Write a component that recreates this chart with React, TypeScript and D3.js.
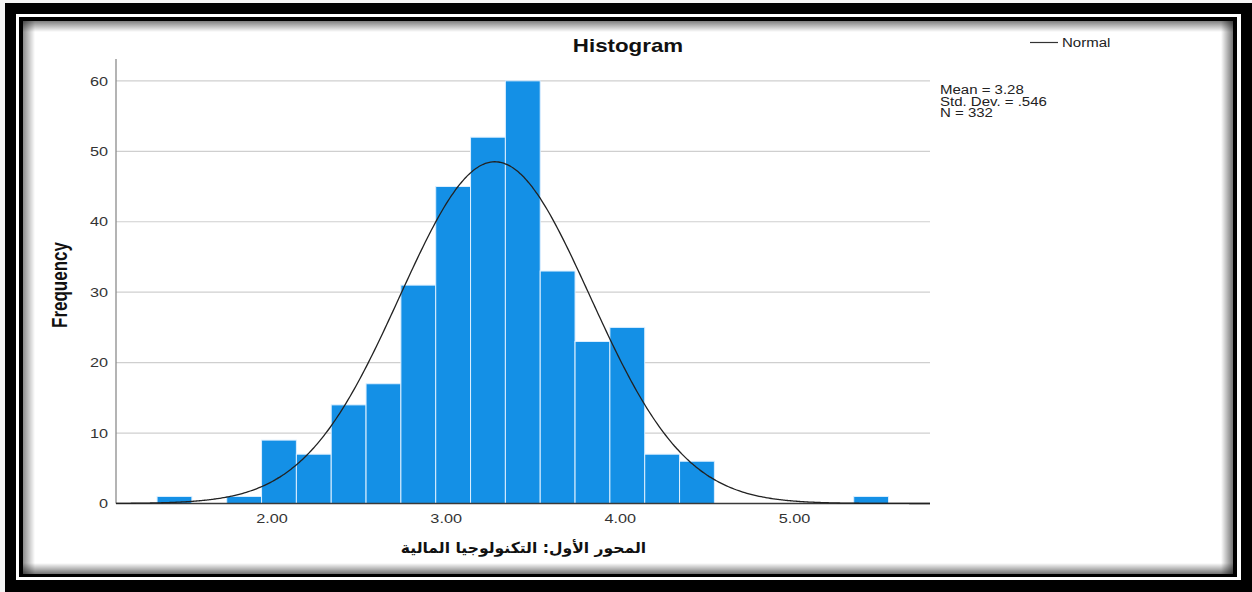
import React from "react";
import * as d3 from "d3";

const binStarts = [1.34, 1.54, 1.74, 1.94, 2.14, 2.34, 2.54, 2.74, 2.94, 3.14, 3.34, 3.54, 3.74, 3.94, 4.14, 4.34, 4.54, 4.74, 4.94, 5.14, 5.34];
const frequencies = [1, 0, 1, 9, 7, 14, 17, 31, 45, 52, 60, 33, 23, 25, 7, 6, 0, 0, 0, 0, 1];
const binWidth = 0.2;
const xTicks = [2, 3, 4, 5];
const yTicks = [0, 10, 20, 30, 40, 50, 60];
const meanValue = 3.28;
const sdValue = 0.546;
const nValue = 332;
const statLines = ["Mean = 3.28", "Std. Dev. = .546", "N = 332"];
const titleText = "Histogram";
const yTitle = "Frequency";
const xTitle = "المحور الأول: التكنولوجيا المالية";
const legendLabel = "Normal";

const W = 1252;
const H = 592;
const SX = 1.25; // horizontal stretch of text seen in the reference

function T({ x, y, anchor = "start", size = 12, weight = "normal", family = "Arial, 'Liberation Sans', sans-serif", children, fill = "#222", sx = SX }: any) {
  return (
    <text
      transform={`translate(${x},${y}) scale(${sx},1)`}
      textAnchor={anchor}
      fontSize={size}
      fontWeight={weight}
      fontFamily={family}
      fill={fill}
    >
      {children}
    </text>
  );
}

export default function App() {
  const x = d3.scaleLinear().domain([1.1043, 5.778]).range([116, 930]);
  const y = d3.scaleLinear().domain([0, 63.1]).range([503.5, 59]);

  const pdf = (v: number) =>
    (nValue * binWidth) / (sdValue * Math.sqrt(2 * Math.PI)) *
    Math.exp(-0.5 * Math.pow((v - meanValue) / sdValue, 2));
  const curveXs = d3.range(0, 401).map((i) => x.domain()[0] + (i / 400) * (x.domain()[1] - x.domain()[0]));
  const line = d3
    .line<number>()
    .x((v) => x(v))
    .y((v) => y(pdf(v)))
    .curve(d3.curveBasis);

  return (
    <div style={{ position: "absolute", left: 0, top: 0 }}>
      <svg width={W} height={H} style={{ display: "block" }}>
        <defs>
          <linearGradient id="shL" x1="0" x2="1" y1="0" y2="0">
            <stop offset="0" stopColor="#000" stopOpacity="0.45" />
            <stop offset="1" stopColor="#000" stopOpacity="0" />
          </linearGradient>
          <linearGradient id="shR" x1="1" x2="0" y1="0" y2="0">
            <stop offset="0" stopColor="#000" stopOpacity="0.55" />
            <stop offset="1" stopColor="#000" stopOpacity="0" />
          </linearGradient>
          <linearGradient id="shT" x1="0" x2="0" y1="0" y2="1">
            <stop offset="0" stopColor="#000" stopOpacity="0.5" />
            <stop offset="1" stopColor="#000" stopOpacity="0" />
          </linearGradient>
          <linearGradient id="shB" x1="0" x2="0" y1="1" y2="0">
            <stop offset="0" stopColor="#000" stopOpacity="0.55" />
            <stop offset="1" stopColor="#000" stopOpacity="0" />
          </linearGradient>
        </defs>
        <rect x={0} y={0} width={W} height={H} fill="#f4f4f4" />
        {/* frame */}
        <rect x={5} y={3} width={W - 5} height={H - 3} fill="#000" />
        <rect x={16} y={14} width={1225} height={566} fill="#fff" />
        <rect x={19} y={17} width={1218} height={560} fill="#000" />
        <rect x={23} y={21} width={1210} height={553} fill="#fff" />
        <rect x={23} y={21} width={12} height={553} fill="url(#shL)" />
        <rect x={1221} y={21} width={12} height={553} fill="url(#shR)" />
        <rect x={23} y={21} width={1210} height={11} fill="url(#shT)" />
        <rect x={23} y={563} width={1210} height={11} fill="url(#shB)" />

        {/* title */}
        <T x={628} y={52} anchor="middle" size={18} weight="bold" fill="#111" sx={1.24}>
          {titleText}
        </T>

        {/* grid */}
        {yTicks.filter((t) => t > 0).map((t) => (
          <line key={t} x1={x.range()[0]} x2={x.range()[1]} y1={y(t)} y2={y(t)} stroke="#cfcfcf" strokeWidth={1.2} />
        ))}

        {/* bars */}
        {binStarts.map((b, i) =>
          frequencies[i] > 0 ? (
            <rect
              key={i}
              x={x(b)}
              y={y(frequencies[i])}
              width={x(b + binWidth) - x(b)}
              height={y(0) - y(frequencies[i])}
              fill="#1490e6"
              stroke="#dcefff"
              strokeWidth={1}
            />
          ) : null
        )}

        {/* axes */}
        <line x1={x.range()[0]} x2={x.range()[0]} y1={y.range()[1]} y2={y(0)} stroke="#8c8c8c" strokeWidth={1.3} />
        <line x1={x.range()[0]} x2={x.range()[1]} y1={y(0)} y2={y(0)} stroke="#3a3a3a" strokeWidth={1.6} />

        {/* normal curve */}
        <path d={line(curveXs) || ""} fill="none" stroke="#222" strokeWidth={1.3} />

        {/* y tick labels */}
        {yTicks.map((t) => (
          <T key={t} x={108} y={y(t) + 4.7} anchor="end" size={13} fill="#333">
            {String(t)}
          </T>
        ))}
        {/* x tick labels */}
        {xTicks.map((t) => (
          <T key={t} x={x(t)} y={523} anchor="middle" size={13} fill="#333">
            {d3.format(".2f")(t)}
          </T>
        ))}

        {/* y title */}
        <text
          transform={`translate(67,285) scale(1.25,1) rotate(-90)`}
          textAnchor="middle"
          fontSize={17}
          fontWeight="bold"
          fontFamily="Arial, 'Liberation Sans', sans-serif"
          fill="#111"
        >
          {yTitle}
        </text>

        {/* x title */}
        <text
          transform={`translate(523.5,553) scale(1.04,1)`}
          textAnchor="middle"
          fontSize={15}
          fontWeight="bold"
          fontFamily="'DejaVu Sans', sans-serif"
          fill="#111"
        >
          {xTitle}
        </text>

        {/* stats */}
        {statLines.map((s, i) => (
          <T key={i} x={940} y={94 + i * 11.7} size={12} fill="#222">
            {s}
          </T>
        ))}

        {/* legend */}
        <line x1={1030} x2={1058} y1={42.5} y2={42.5} stroke="#333" strokeWidth={1.2} />
        <T x={1062} y={47} size={12} fill="#222">
          {legendLabel}
        </T>
      </svg>
    </div>
  );
}
